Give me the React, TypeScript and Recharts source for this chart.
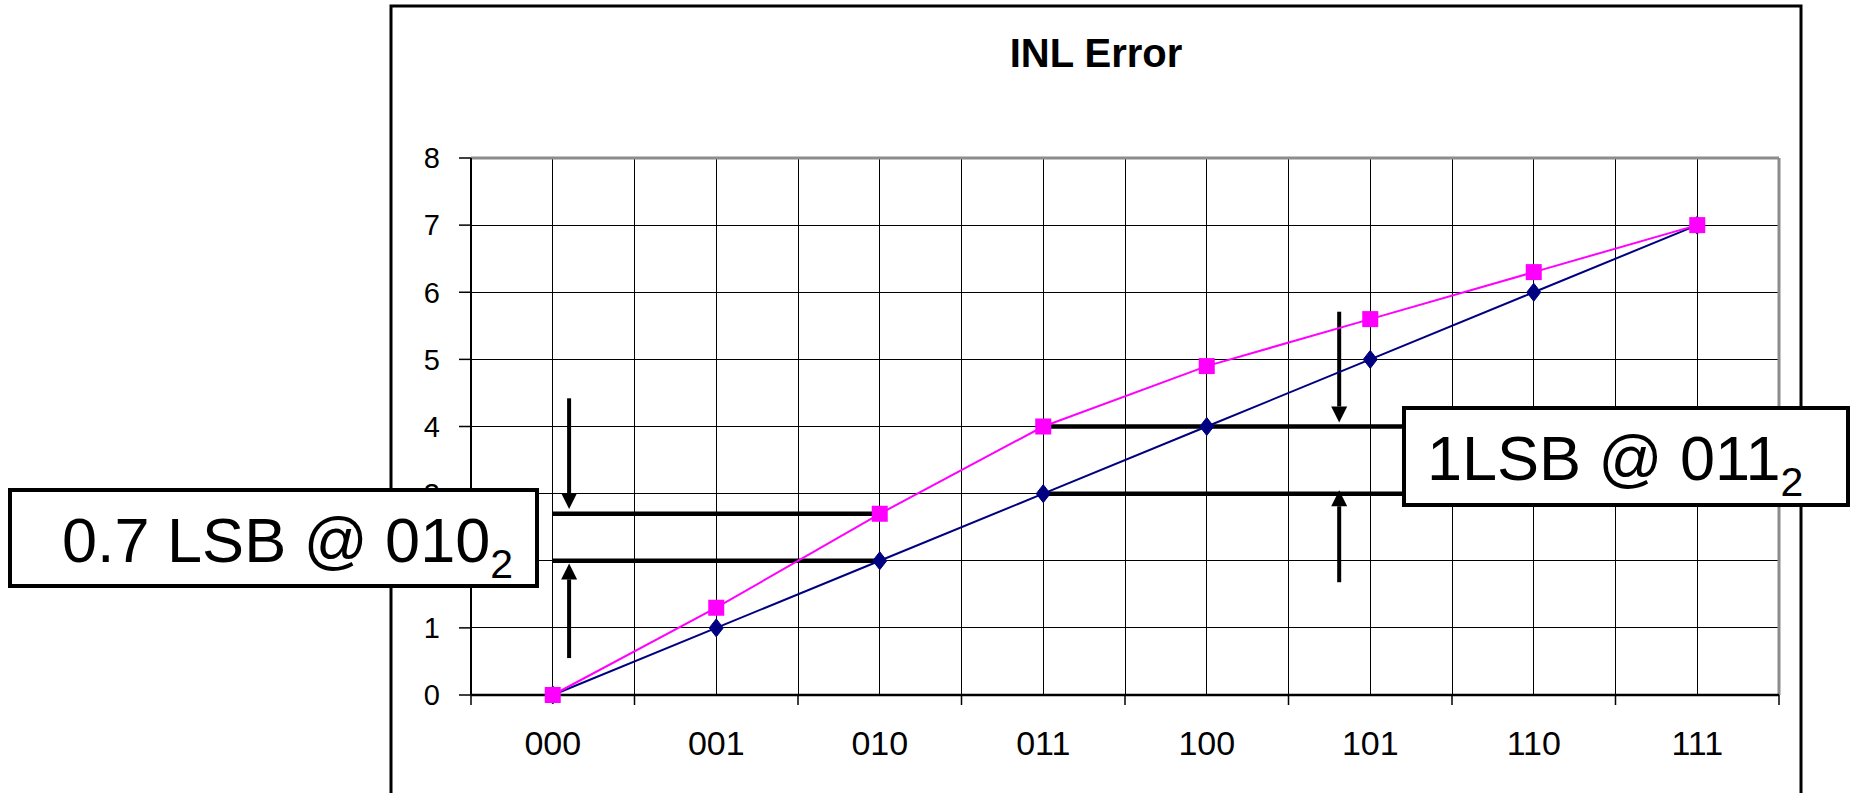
import React from "react";
import {
  ComposedChart,
  Line,
  XAxis,
  YAxis,
  CartesianGrid,
  ReferenceLine,
} from "recharts";

// --- Data ---

const CODES = ["000", "001", "010", "011", "100", "101", "110", "111"];
const IDEAL = [0, 1, 2, 3, 4, 5, 6, 7];
const ACTUAL = [0, 1.3, 2.7, 4, 4.9, 5.6, 6.3, 7];
const Y_TICKS = [0, 1, 2, 3, 4, 5, 6, 7, 8];
// code centres and the boundaries between them
const X_TICKS = [-0.5, 0, 0.5, 1, 1.5, 2, 2.5, 3, 3.5, 4, 4.5, 5, 5.5, 6, 6.5, 7, 7.5];

// thick marker lines (x from/to in code index, y in LSB)
const GAP_LINES = [
  { from: 0, to: 2, y: 2.7 },
  { from: 0, to: 2, y: 2 },
  { from: 3, to: 6, y: 4 },
  { from: 3, to: 6, y: 3 },
];

// arrows: x in code index, from -> tip in LSB
const ARROWS = [
  { x: 0.1, from: 4.42, to: 2.77 },
  { x: 0.1, from: 0.55, to: 1.96 },
  { x: 4.81, from: 5.71, to: 4.06 },
  { x: 4.81, from: 1.68, to: 3.05 },
];

const data = CODES.map((code, i) => ({
  i,
  code,
  ideal: IDEAL[i],
  actual: ACTUAL[i],
}));

// --- Constants ---

const W = 1856;
const H = 793;
const FONT = "'Liberation Sans', Arial, Helvetica, sans-serif";
const NAVY = "#000080";
const MAGENTA = "#FF00FF";
const BORDER_GRAY = "#8c8c8c";

// --- Shapes ---

function XTick(props: any) {
  const { x, y, payload } = props;
  const v = payload.value;
  if (Number.isInteger(v)) {
    return (
      <text x={x} y={y + 60} textAnchor="middle" fontSize={34} fontFamily={FONT} fill="#000">
        {CODES[v]}
      </text>
    );
  }
  return <line x1={x} x2={x} y1={y} y2={y + 10} stroke="#000" strokeWidth={1.5} />;
}

function Diamond(props: any) {
  const { cx, cy } = props;
  if (cx == null || cy == null) return null;
  return (
    <path
      d={`M${cx},${cy - 9} L${cx + 7},${cy} L${cx},${cy + 9} L${cx - 7},${cy} Z`}
      fill={NAVY}
      stroke={NAVY}
      strokeWidth={1}
    />
  );
}

function Square(props: any) {
  const { cx, cy } = props;
  if (cx == null || cy == null) return null;
  return <rect x={cx - 8} y={cy - 8} width={16} height={16} fill={MAGENTA} />;
}

function Arrow(props: any) {
  const { x1, y1, x2, y2 } = props;
  const dir = y2 > y1 ? 1 : -1;
  const head = 16;
  return (
    <g>
      <line x1={x1} y1={y1} x2={x2} y2={y2 - dir * head} stroke="#000" strokeWidth={4} />
      <path
        d={`M${x2},${y2} L${x2 - 8},${y2 - dir * head} L${x2 + 8},${y2 - dir * head} Z`}
        fill="#000"
      />
    </g>
  );
}

// --- Main ---

export default function App() {
  return (
    <div
      style={{
        position: "absolute",
        left: 0,
        top: 0,
        width: W,
        height: H,
        overflow: "hidden",
        background: "#fff",
      }}
    >
      <ComposedChart
        width={W}
        height={H}
        data={data}
        margin={{ top: 158, right: 77, bottom: 38, left: 391 }}
      >
        <CartesianGrid stroke="#000" strokeWidth={1} shapeRendering="crispEdges" />
        <XAxis
          dataKey="i"
          type="number"
          domain={[-0.5, 7.5]}
          ticks={X_TICKS}
          interval={0}
          height={60}
          tickSize={0}
          tickMargin={0}
          tickLine={false}
          tick={<XTick />}
          axisLine={{ stroke: "#000", strokeWidth: 2.5 }}
        />
        <YAxis
          type="number"
          domain={[0, 8]}
          ticks={Y_TICKS}
          interval={0}
          width={80}
          tickSize={12}
          tickMargin={19}
          tick={{ fill: "#000", fontSize: 29, fontFamily: FONT }}
          tickLine={{ stroke: "#000", strokeWidth: 1.5 }}
          axisLine={{ stroke: "#000", strokeWidth: 2 }}
        />
        <ReferenceLine y={8} stroke={BORDER_GRAY} strokeWidth={3} />
        <ReferenceLine x={7.5} stroke={BORDER_GRAY} strokeWidth={3} />
        {GAP_LINES.map((g, k) => (
          <ReferenceLine
            key={`gap-${k}`}
            segment={[
              { x: g.from, y: g.y },
              { x: g.to, y: g.y },
            ]}
            stroke="#000"
            strokeWidth={4.5}
          />
        ))}
        {ARROWS.map((a, k) => (
          <ReferenceLine
            key={`arrow-${k}`}
            segment={[
              { x: a.x, y: a.from },
              { x: a.x, y: a.to },
            ]}
            shape={(p: any) => <Arrow {...p} />}
          />
        ))}
        <Line
          type="linear"
          dataKey="ideal"
          stroke={NAVY}
          strokeWidth={2}
          dot={(p: any) => <Diamond key={`d-${p.index}`} {...p} />}
          activeDot={false}
          isAnimationActive={false}
        />
        <Line
          type="linear"
          dataKey="actual"
          stroke={MAGENTA}
          strokeWidth={2}
          dot={(p: any) => <Square key={`s-${p.index}`} {...p} />}
          activeDot={false}
          isAnimationActive={false}
        />
      </ComposedChart>

      <svg
        width={W}
        height={H}
        style={{ position: "absolute", left: 0, top: 0, pointerEvents: "none" }}
      >
        <rect x={391} y={6} width={1410} height={820} fill="none" stroke="#000" strokeWidth={3} />
        <text
          x={1096}
          y={67}
          textAnchor="middle"
          fontSize={40}
          fontWeight="bold"
          fontFamily={FONT}
          fill="#000"
        >
          INL Error
        </text>

        <rect x={10} y={490} width={527} height={96} fill="#fff" stroke="#000" strokeWidth={4} />
        <text x={62} y={562} fontSize={63} fontFamily={FONT} fill="#000">
          0.7 LSB @ 010
          <tspan fontSize={41} dy={16}>
            2
          </tspan>
        </text>

        <rect x={1404} y={408} width={444} height={97} fill="#fff" stroke="#000" strokeWidth={4} />
        <text x={1427} y={480} fontSize={63} fontFamily={FONT} fill="#000">
          1LSB @ 011
          <tspan fontSize={41} dy={16}>
            2
          </tspan>
        </text>
      </svg>
    </div>
  );
}
